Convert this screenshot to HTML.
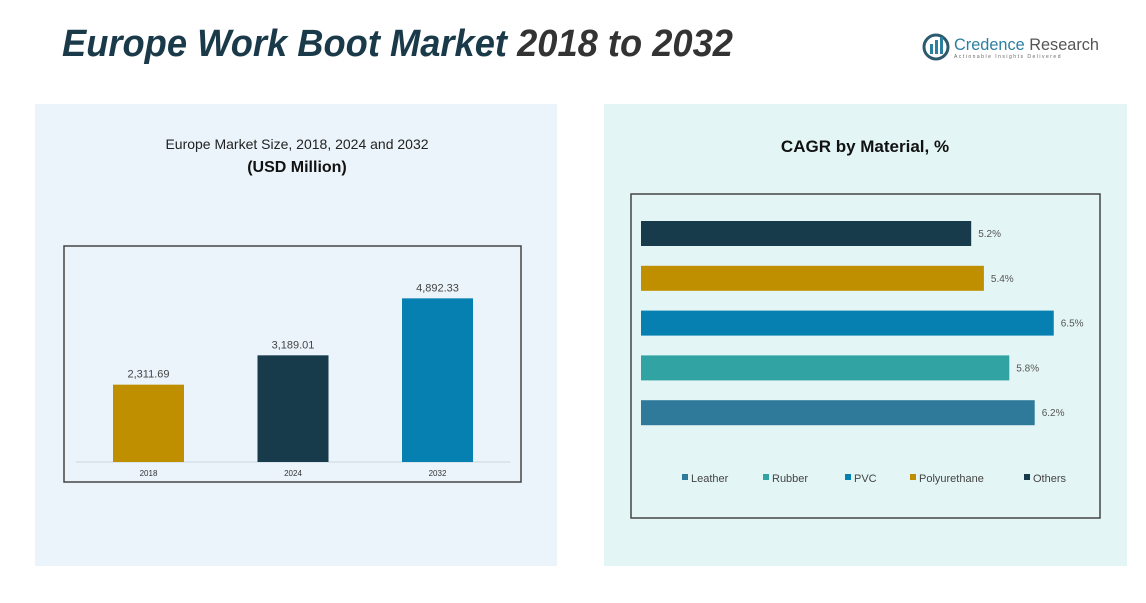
<!DOCTYPE html>
<html><head><meta charset="utf-8"><style>
body{margin:0;width:1146px;height:603px;background:#fff;overflow:hidden;font-family:"Liberation Sans",sans-serif;}
svg{display:block}
</style></head><body>
<svg id="s" width="1146" height="603" xmlns="http://www.w3.org/2000/svg">
<rect x="35" y="104" width="522" height="462" fill="#ebf4fa"/>
<rect x="604" y="104" width="523" height="462" fill="#e3f5f5"/>
<text x="62" y="56" font-size="38" font-weight="bold" font-style="italic" fill="#1a3a4a" textLength="671" lengthAdjust="spacingAndGlyphs">Europe Work Boot Market <tspan fill="#333">2018 to 2032</tspan></text>
<g>
<circle cx="936" cy="47" r="12" fill="none" stroke="#2d5a6e" stroke-width="3"/>
<rect x="930" y="44" width="3" height="10" fill="#2d7fa0"/><rect x="935" y="40" width="3" height="14" fill="#2d7fa0"/><rect x="940" y="37" width="3" height="17" fill="#2d7fa0"/>
<text x="954" y="50" font-size="17" fill="#2d7fa0" textLength="145" lengthAdjust="spacingAndGlyphs">Credence <tspan fill="#555">Research</tspan></text>
<text x="954" y="58" font-size="5" fill="#666" letter-spacing="1.5">Actionable Insights Delivered</text>
</g>
<text x="297" y="149" font-size="14" text-anchor="middle" fill="#222">Europe Market Size, 2018, 2024 and 2032</text>
<text x="297" y="172" font-size="16" font-weight="bold" text-anchor="middle" fill="#111">(USD Million)</text>
<rect x="64" y="246" width="457" height="236" fill="none" stroke="#444" stroke-width="1.5"/>
<line x1="76" y1="462" x2="510" y2="462" stroke="#cdd6dc"/>
<g id="lb"></g>
<text x="865" y="152" font-size="17" font-weight="bold" text-anchor="middle" fill="#111">CAGR by Material, %</text>
<rect x="631" y="194" width="469" height="324" fill="none" stroke="#444" stroke-width="1.5"/>
<g id="rb"></g>
<g id="lg"></g>
</svg>
<script>
const years=["2018","2024","2032"];
const sizes=[2311.69,3189.01,4892.33];
const sizeLabels=["2,311.69","3,189.01","4,892.33"];
const materials=["Others","Polyurethane","PVC","Rubber","Leather"];
const cagr=[5.2,5.4,6.5,5.8,6.2];
const cagrLabels=["5.2%","5.4%","6.5%","5.8%","6.2%"];
const legendOrder=["Leather","Rubber","PVC","Polyurethane","Others"];
const NS="http://www.w3.org/2000/svg";
const colY=["#bf8f00","#173b4b","#0580b0"];
const colM={Others:"#173b4b",Polyurethane:"#bf8f00",PVC:"#0580b0",Rubber:"#32a3a3",Leather:"#2f7a9a"};
function mk(t,a,p){const e=document.createElementNS(NS,t);for(const k in a)e.setAttribute(k,a[k]);p.appendChild(e);return e;}
const yS=v=>462-v*0.03345;
const xS=i=>148.5+i*144.5;
const lb=document.getElementById('lb');
years.forEach((y,i)=>{
 const r=mk('rect',{x:xS(i)-35.5,y:yS(sizes[i]),width:71,height:462-yS(sizes[i]),fill:colY[i]},lb);
 
 
 const t=mk('text',{x:xS(i),y:yS(sizes[i])-7,'font-size':11,'text-anchor':'middle',fill:'#444'},lb);t.textContent=sizeLabels[i];
 
 
 const x=mk('text',{x:xS(i),y:476,'font-size':8,'text-anchor':'middle',fill:'#333'},lb);x.textContent=y;
 
 
});
const wS=v=>v*63.5;
const rb=document.getElementById('rb');
materials.forEach((m,i)=>{
 const yy=221+i*44.8;
 const r=mk('rect',{x:641,y:yy,width:wS(cagr[i]),height:25,fill:colM[m]},rb);
 
 
 const t=mk('text',{x:641+wS(cagr[i])+7,y:yy+16,'font-size':10,fill:'#555'},rb);t.textContent=cagrLabels[i];
 
 
});
const lg=document.getElementById('lg');
const lx=[682,763,845,910,1024];
legendOrder.forEach((m,i)=>{
 const g=mk('g',{},lg);
 
 
 mk('rect',{x:lx[i],y:474,width:6,height:6,fill:colM[m]},g);
 const t=mk('text',{x:lx[i]+9,y:482,'font-size':11,fill:'#444'},g);t.textContent=m;
});
</script>
</body></html>
